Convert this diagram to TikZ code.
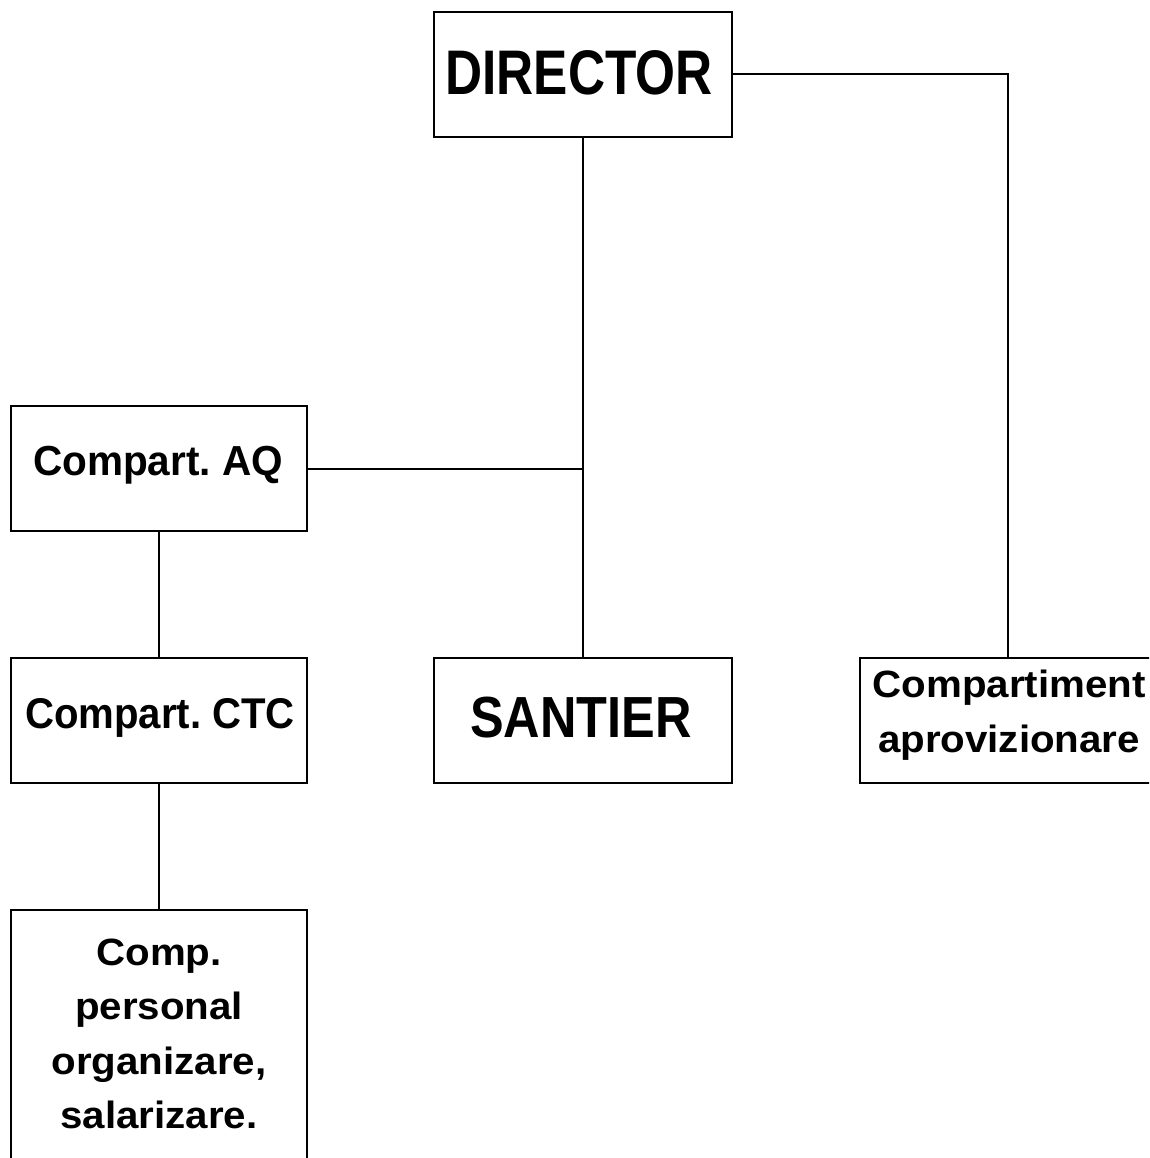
\documentclass[tikz,border=0pt]{standalone}
\usepackage{fontspec}
\setmainfont{Liberation Sans}
\usepackage{graphicx}
\frenchspacing
\begin{document}
\begin{tikzpicture}[x=1pt,y=-1pt,
  box/.style={draw=black, line width=2pt, rectangle, inner sep=0pt, fill=none},
  lbl/.style={inner sep=0pt, anchor=base, text=black, font=\bfseries}]
\clip (0,0) rectangle (1149,1158);
\fill[white] (0,0) rectangle (1149,1158);
% boxes
\node[box, minimum width=298pt, minimum height=125pt] (dir) at (582.5,74.5) {};
\node[box, minimum width=296pt, minimum height=125pt] (aq) at (159,468.5) {};
\node[box, minimum width=296pt, minimum height=125pt] (ctc) at (159,720.5) {};
\node[box, minimum width=298pt, minimum height=125pt] (san) at (582.5,720.5) {};
\node[box, minimum width=296pt, minimum height=125pt] (apr) at (1008,720.5) {};
\node[box, minimum width=296pt, minimum height=270pt] (per) at (159,1045) {};
% texts
\node[lbl] (tdir) at (579,95) {\fontsize{63}{63}\selectfont\scalebox{0.815}[1]{DIRECTOR}};
\node[lbl] (taq) at (158,475) {\fontsize{42}{42}\selectfont\scalebox{0.965}[1]{Compart. AQ}};
\node[lbl] (tctc) at (160,728) {\fontsize{43}{43}\selectfont\scalebox{0.934}[1]{Compart. CTC}};
\node[lbl] (tsan) at (581,737) {\fontsize{58}{58}\selectfont\scalebox{0.87}[1]{SANTIER}};
\node[lbl] (tapr) at (1009,697) {\fontsize{38}{55}\selectfont\scalebox{1.06}[1]{\begin{tabular}[t]{@{}c@{}}Compartiment\\aprovizionare\end{tabular}}};
\node[lbl] (tper) at (159,965) {\fontsize{38}{54.5}\selectfont\scalebox{1.06}[1]{\begin{tabular}[t]{@{}c@{}}Comp.\\personal\\organizare,\\salarizare.\end{tabular}}};
% connectors
\coordinate (j) at (dir.south |- aq.east);
\draw[line width=2pt] (dir.south) -- (san.north);
\draw[line width=2pt] (aq.east) -- (j);
\draw[line width=2pt] (dir.east) -| (apr.north);
\draw[line width=2pt] (aq.south) -- (ctc.north);
\draw[line width=2pt] (ctc.south) -- (per.north);
\end{tikzpicture}
\end{document}
